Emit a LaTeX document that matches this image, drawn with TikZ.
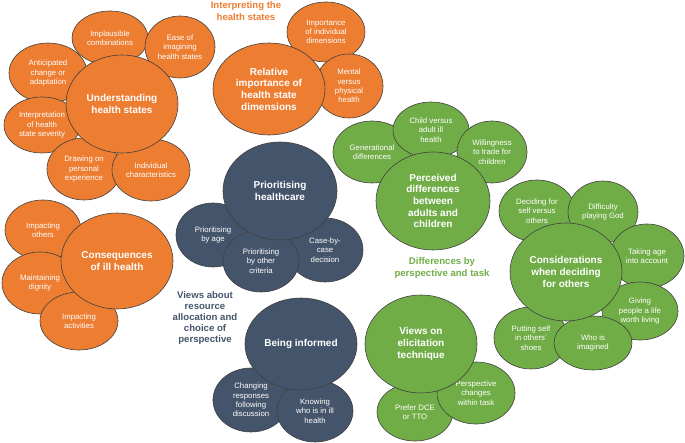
\documentclass[tikz,border=0pt]{standalone}
\usepackage{fontspec}
\setmainfont{Liberation Sans}
\usetikzlibrary{shapes.geometric}
\definecolor{themeorange}{HTML}{ED7D31}
\definecolor{themegreen}{HTML}{70AD47}
\definecolor{themeblue}{HTML}{44546A}

\begin{document}
\begin{tikzpicture}[x=1pt, y=-1pt,
  bubble/.style={ellipse, draw=black!75, line width=0.6pt, inner sep=0pt, align=center, text=white},
  bsize/.style 2 args={minimum width=#1pt, minimum height=#2pt},
  subbub/.style={bubble, font=\fontsize{7.8}{9.3}\selectfont},
  mainbub/.style={bubble, font=\fontsize{10}{11.7}\selectfont\bfseries},
  orangefill/.style={fill=themeorange},
  greenfill/.style={fill=themegreen},
  bluefill/.style={fill=themeblue},
  heading/.style={font=\fontsize{9.6}{11.2}\selectfont\bfseries, align=center}]
\useasboundingbox (0,0) rectangle (685,443);

\node[subbub, orangefill, bsize={76}{54}] (implausible) at (110,38) {Implausible\\combinations};
\node[subbub, orangefill, bsize={70}{62}] (ease) at (180,47) {Ease of\\imagining\\health states};
\node[subbub, orangefill, bsize={78}{60}] (anticipated) at (48,73) {Anticipated\\change or\\adaptation};
\node[subbub, orangefill, bsize={76}{56}] (severity) at (42,125) {Interpretation\\of health\\state severity};
\node[subbub, orangefill, bsize={74}{62}] (personal) at (84,169) {Drawing on\\personal\\experience};
\node[subbub, orangefill, bsize={78}{62}] (individual) at (151,170) {Individual\\characteristics};
\node[mainbub, orangefill, bsize={112}{98}] (understanding) at (122,104) {Understanding\\health states};

\node[subbub, orangefill, bsize={78}{60}] (importance) at (326,32) {Importance\\of individual\\dimensions};
\node[subbub, orangefill, bsize={68}{64}] (mental) at (349,86) {Mental\\versus\\physical\\health};
\node[mainbub, orangefill, bsize={112}{92}] (relative) at (269,89) {Relative\\importance of\\health state\\dimensions};

\node[subbub, orangefill, bsize={76}{60}] (others) at (43,230) {Impacting\\others};
\node[subbub, orangefill, bsize={76}{62}] (dignity) at (40,283) {Maintaining\\dignity};
\node[subbub, orangefill, bsize={78}{58}] (activities) at (79,321) {Impacting\\activities};
\node[mainbub, orangefill, bsize={112}{96}] (consequences) at (117,261) {Consequences\\of ill health};

\node[subbub, bluefill, bsize={74}{64}] (byage) at (213,235) {Prioritising\\by age};
\node[subbub, bluefill, bsize={76}{64}] (casebycase) at (325,250) {Case-by-\\case\\decision};
\node[subbub, bluefill, bsize={76}{62}] (bycriteria) at (261,261) {Prioritising\\by other\\criteria};
\node[mainbub, bluefill, bsize={114}{98}] (prioritising) at (280,191) {Prioritising\\healthcare};

\node[subbub, bluefill, bsize={76}{64}] (changing) at (251,400) {Changing\\responses\\following\\discussion};
\node[subbub, bluefill, bsize={76}{62}] (knowing) at (315,411) {Knowing\\who is in ill\\health};
\node[mainbub, bluefill, bsize={112}{92}] (informed) at (301,344) {Being informed};

\node[subbub, greenfill, bsize={78}{62}] (generational) at (372,152) {Generational\\differences};
\node[subbub, greenfill, bsize={76}{56}] (childadult) at (431,130) {Child versus\\adult ill\\health};
\node[subbub, greenfill, bsize={70}{62}] (willingness) at (492,152) {Willingness\\to trade for\\children};
\node[mainbub, greenfill, bsize={114}{98}] (perceived) at (433,201) {Perceived\\differences\\between\\adults and\\children};

\node[subbub, greenfill, bsize={76}{62}] (deciding) at (537,211) {Deciding for\\self versus\\others};
\node[subbub, greenfill, bsize={70}{62}] (playinggod) at (603,212) {Difficulty\\playing God};
\node[subbub, greenfill, bsize={74}{64}] (takingage) at (647,256) {Taking age\\into account};
\node[subbub, greenfill, bsize={76}{58}] (worthliving) at (640,311) {Giving\\people a life\\worth living};
\node[subbub, greenfill, bsize={74}{62}] (shoes) at (531,338) {Putting self\\in others'\\shoes};
\node[subbub, greenfill, bsize={78}{54}] (imagined) at (593,343) {Who is\\imagined};
\node[mainbub, greenfill, bsize={112}{98}] (considerations) at (566,272) {Considerations\\when deciding\\for others};

\node[subbub, greenfill, bsize={76}{58}] (prefer) at (415,412) {Prefer DCE\\or TTO};
\node[subbub, greenfill, bsize={78}{62}] (withintask) at (476,393) {Perspective\\changes\\within task};
\node[mainbub, greenfill, bsize={112}{98}] (elicitation) at (421,344) {Views on\\elicitation\\technique};

\node[heading, text=themeorange] (interpreting) at (246,11) {Interpreting the\\health states};
\node[heading, text=themeblue] (views) at (205,318) {Views about\\resource\\allocation and\\choice of\\perspective};
\node[heading, text=themegreen] (differences) at (442,268) {Differences by\\perspective and task};
\end{tikzpicture}
\end{document}
